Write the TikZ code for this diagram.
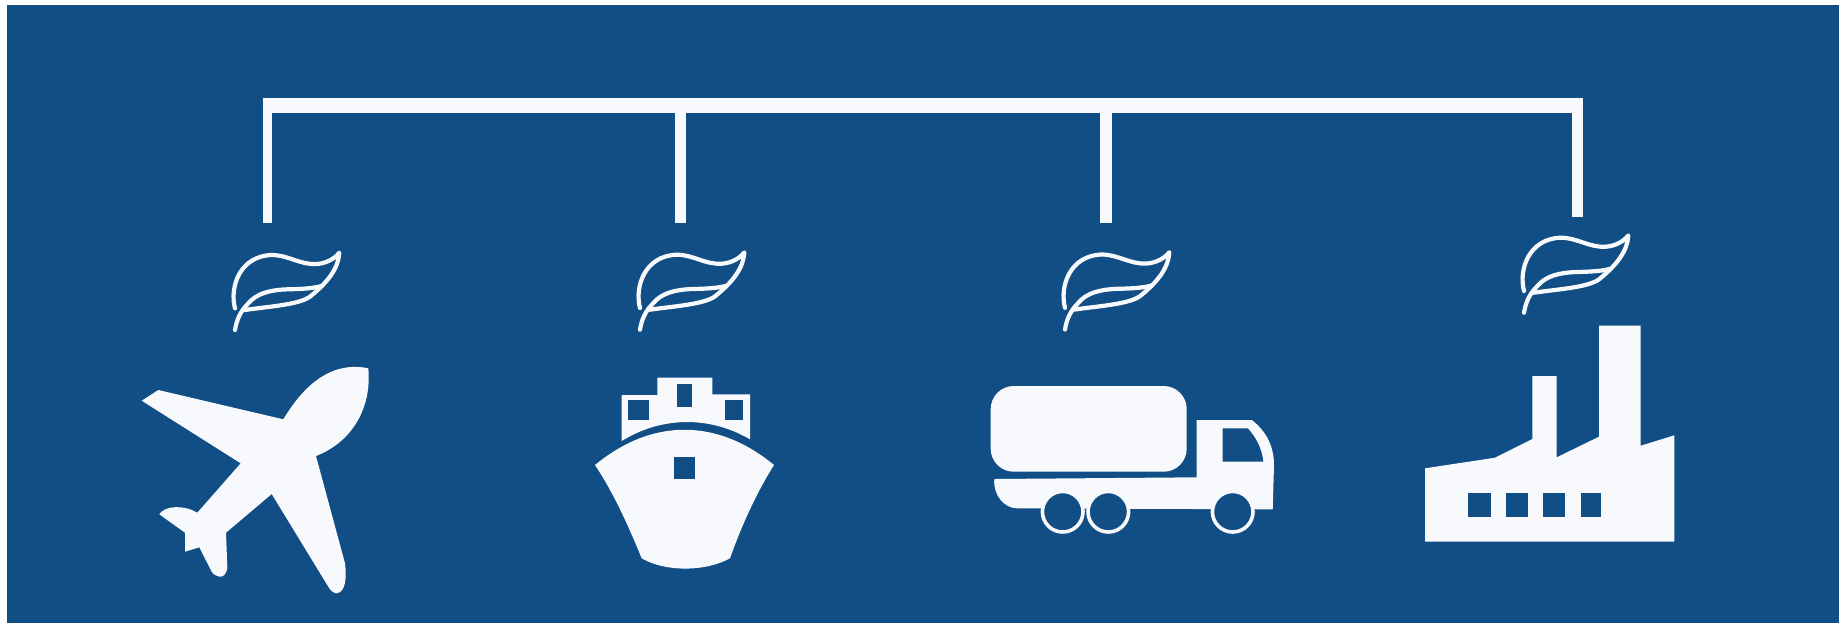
\documentclass[tikz,border=0pt]{standalone}
\usepackage{xcolor}
\usepackage{tikz}
\definecolor{panelblue}{HTML}{104E85}
\definecolor{iconwhite}{HTML}{F8F9FC}

\begin{document}
\begin{tikzpicture}[
    x=0.5pt,y=-0.5pt,
    icon/.style={fill=iconwhite,draw=none},
    hole/.style={fill=panelblue,draw=none},
    rail/.style={draw=iconwhite,line width=7.75pt},
    drop/.style={draw=iconwhite,line width=5.7pt},
    tyre/.style={draw=iconwhite,fill=panelblue,line width=1.8pt},
    leafline/.style={draw=iconwhite,line width=2.1pt,line cap=round,line join=round},
    leafmark/.pic={
      \begin{scope}[scale=1/3]
        \draw[leafline] (45,205) .. controls (28,140) and (60,48) .. (155,45)
          .. controls (205,45) and (240,75) .. (290,72)
          .. controls (320,70) and (345,55) .. (358,38)
          .. controls (355,85) and (325,125) .. (270,170)
          .. controls (235,195) and (140,200) .. (75,210);
        \draw[leafline] (45,270) .. controls (50,240) and (60,215) .. (85,190)
          .. controls (110,160) and (150,150) .. (200,148)
          .. controls (240,147) and (275,146) .. (305,138);
      \end{scope}
    }
  ]
    \path[use as bounding box,fill=white] (0,0) rectangle (1839,623);
    \fill[panelblue] (7,5) rectangle (1839,623);
    % bracket
    \coordinate (railL) at (262.7,105.3);
    \coordinate (railR) at (1583.3,105.3);
    \coordinate (topA) at (267.2,105.3);
    \coordinate (topB) at (680.3,105.3);
    \coordinate (topC) at (1106,105.3);
    \coordinate (topD) at (1577.5,105.3);
    \coordinate (endA) at (267.2,223.3);
    \coordinate (endB) at (680.3,223.3);
    \coordinate (endC) at (1106,223.3);
    \coordinate (endD) at (1577.5,216.7);
    \draw[drop,line width=4.5pt] (topA) -- (endA);
    \draw[drop] (topB) -- (endB);
    \draw[drop] (topC) -- (endC);
    \draw[drop,line width=5.85pt] (topD) -- (endD);
    \draw[rail] (railL) -- (railR);
    % leaves
    \pic at (220,240) {leafmark};
    \pic at (625,239.7) {leafmark};
    \pic at (1050,239.5) {leafmark};
    \pic at (1509,222.7) {leafmark};
    % plane
    \fill[icon] (141.7,400.7) -- (158.3,390) -- (283.3,419.3)
      .. controls (301,390) and (328,360) .. (368.3,368.3)
      .. controls (372,408) and (352,442) .. (316,456)
      -- (345,563.3) .. controls (347,580) and (345,592) .. (336.7,593.3)
      .. controls (333,593) and (330,590) .. (328.3,586.7)
      -- (271.7,494) -- (226,532.7) -- (227.3,566.7)
      .. controls (227,574) and (223,577) .. (220,576.7)
      .. controls (216,576) and (213,574) .. (211.7,571.7)
      -- (199.3,547.3) -- (185,551.7) -- (185,532.7) -- (159.3,514.3)
      .. controls (165,505) and (185,505) .. (197.3,512.7)
      -- (240.7,463.3) -- cycle;
    % ship
    \fill[icon] (595,465) .. controls (652,418) and (717,418) .. (774,465)
      .. controls (755,495) and (740,530) .. (730,558.3)
      .. controls (705,572) and (665,572) .. (641.7,558.3)
      .. controls (630,530) and (615,495) .. (595,465) -- cycle;
    \fill[hole] (674.3,457) rectangle (695,479.3);
    \fill[icon] (621.7,395) -- (657.3,395) -- (657.3,377.7) -- (712.3,377.7)
      -- (712.3,394.3) -- (750,394.3) -- (750,439.3)
      .. controls (710,416) and (662,416) .. (621.7,441) -- cycle;
    \fill[hole] (628.3,400) rectangle (648.7,420);
    \fill[hole] (677,384.3) rectangle (692.3,406.7);
    \fill[hole] (725.3,400) rectangle (743.3,420);
    % truck
    \fill[icon,rounded corners=11.5pt] (990.7,386) rectangle (1186.7,471.7);
    \fill[icon] (994.3,479) -- (1196.7,477.3) -- (1196.7,420) -- (1251.7,420)
      .. controls (1265,430) and (1274,445) .. (1274,465)
      -- (1272.7,509.3) -- (1016.7,508.3)
      .. controls (1004,508) and (993,495) .. (994.3,479) -- cycle;
    \fill[hole] (1222.7,428.3) -- (1247.7,428.3)
      .. controls (1255,436) and (1262,448) .. (1263.3,461.7)
      -- (1222.7,461.7) -- cycle;
    \draw[tyre] (1062.7,511.7) circle[radius=20.3];
    \draw[tyre] (1108.3,511.7) circle[radius=20.3];
    \draw[tyre] (1232.7,511.7) circle[radius=20.3];
    % factory
    \fill[iconwhite] (1425,468.3) -- (1495,457.7) -- (1532.3,439) -- (1532.3,376)
      -- (1556.7,376) -- (1556.7,457.3) -- (1599,436.7) -- (1599,325.7)
      -- (1640.7,325.7) -- (1640.7,445.7) -- (1674.3,435.3) -- (1674.3,541.7)
      -- (1425,541.7) -- cycle;
    \fill[hole] (1468.3,492.7) rectangle (1490.7,516.7);
    \fill[hole] (1505.7,492.7) rectangle (1528,516.7);
    \fill[hole] (1543.3,492.7) rectangle (1565.3,516.7);
    \fill[hole] (1580.7,492.7) rectangle (1600.7,516.7);
\end{tikzpicture}
\end{document}
